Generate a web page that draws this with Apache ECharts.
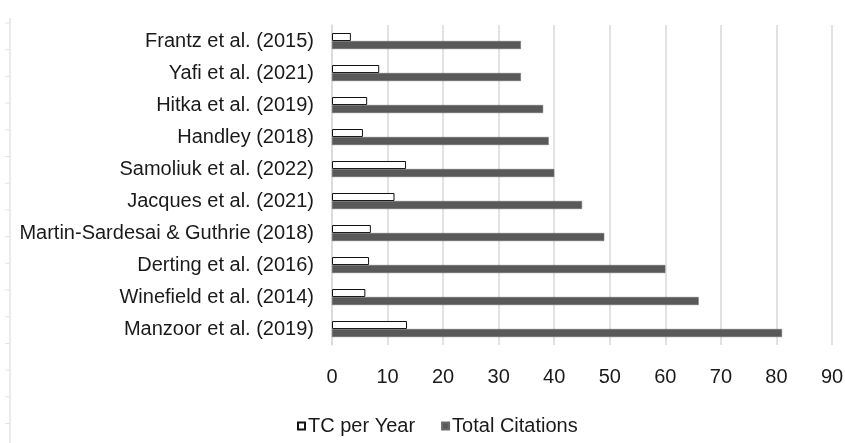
<!DOCTYPE html>
<html>
<head>
<meta charset="utf-8">
<script src="https://cdn.jsdelivr.net/npm/echarts@6/dist/echarts.min.js"></script>
<style>
  html, body { margin: 0; padding: 0; background: #fff; }
  #chart { width: 845px; height: 443px; }
</style>
</head>
<body>
<div id="chart"></div>
<script>
// Studies, listed bottom-to-top on the category axis
const studies = [
  'Manzoor et al. (2019)',
  'Winefield et al. (2014)',
  'Derting et al. (2016)',
  'Martin-Sardesai & Guthrie (2018)',
  'Jacques et al. (2021)',
  'Samoliuk et al. (2022)',
  'Handley (2018)',
  'Hitka et al. (2019)',
  'Yafi et al. (2021)',
  'Frantz et al. (2015)'
];
const tcPerYear = [13.5, 6.0, 6.67, 7.0, 11.25, 13.33, 5.57, 6.33, 8.5, 3.4];
const totalCitations = [81, 66, 60, 49, 45, 40, 39, 38, 34, 34];
const seriesNames = ['TC per Year', 'Total Citations'];

const FONT = "'Liberation Sans', Arial, sans-serif";
const TEXT = '#1a1a1a';

// Faint ruler along the left edge
const ruler = [{
  type: 'line', silent: true,
  shape: { x1: 10, y1: 18, x2: 10, y2: 443 },
  style: { stroke: '#e3e3e3', lineWidth: 1.5 }
}];
for (let k = 0; k < 16; k++) {
  const y = 23 + k * 26.7;
  ruler.push({
    type: 'line', silent: true,
    shape: { x1: 5, y1: y, x2: 10, y2: y },
    style: { stroke: '#e3e3e3', lineWidth: 1 }
  });
}

const chart = echarts.init(document.getElementById('chart'), null, { renderer: 'canvas' });
chart.setOption({
  animation: false,
  backgroundColor: '#ffffff',
  textStyle: { fontFamily: FONT },
  grid: { left: 332, right: 13, top: 25, bottom: 98, containLabel: false, outerBoundsMode: 'none' },
  legend: {
    data: seriesNames,
    left: 292, top: 411,
    icon: 'rect',
    itemWidth: 7, itemHeight: 7, itemGap: 26,
    textStyle: { fontFamily: FONT, fontSize: 20, color: TEXT, padding: [0, 0, 0, -2] }
  },
  xAxis: {
    type: 'value', min: 0, max: 90, interval: 10,
    axisLine: { show: false },
    axisTick: { show: false },
    splitLine: { show: true, lineStyle: { color: '#d9d9d9', width: 1.5 } },
    axisLabel: { fontFamily: FONT, fontSize: 20, color: TEXT, margin: 22 }
  },
  yAxis: {
    type: 'category', data: studies,
    axisLine: { show: true, lineStyle: { color: '#d9d9d9', width: 1.5 } },
    axisTick: { show: false },
    axisLabel: { fontFamily: FONT, fontSize: 20, color: TEXT, margin: 18 }
  },
  series: [
    {
      name: seriesNames[0], type: 'bar', data: tcPerYear,
      barWidth: 8, barGap: '0%',
      itemStyle: { color: '#ffffff', borderColor: '#111111', borderWidth: 1 }
    },
    {
      name: seriesNames[1], type: 'bar', data: totalCitations,
      barWidth: 8, barGap: '0%',
      itemStyle: { color: '#595959', borderColor: '#6a6a6a', borderWidth: 0.5 }
    }
  ],
  graphic: ruler
});
</script>
</body>
</html>
